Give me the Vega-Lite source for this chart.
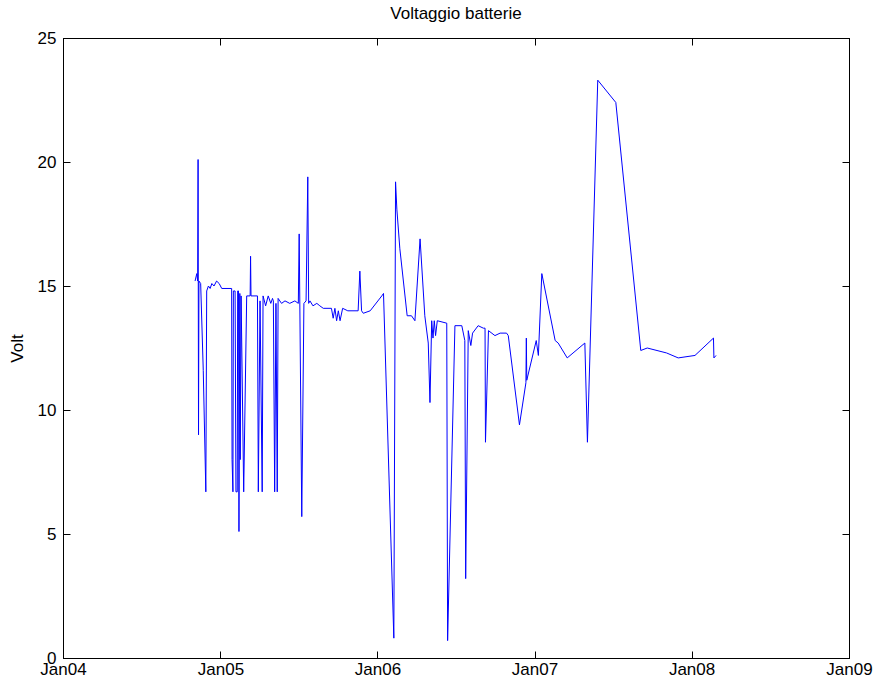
{
  "$schema": "https://vega.github.io/schema/vega-lite/v6.json",
  "width": 786,
  "height": 620,
  "autosize": {"type": "none"},
  "padding": {"left": 63, "top": 38, "right": 26, "bottom": 29},
  "background": "white",
  "config": {
    "view": {"stroke": "#000000", "strokeWidth": 1},
    "font": "Liberation Sans",
    "axis": {"labelFont": "Liberation Sans", "titleFont": "Liberation Sans", "labelColor": "#000", "titleColor": "#000", "domainColor": "#000", "tickColor": "#000", "grid": false}
  },
  "title": {"text": "Voltaggio batterie", "fontSize": 17, "font": "Liberation Sans", "fontWeight": "normal", "color": "#000", "offset": 6, "anchor": "middle"},
  "data": {
    "values": [
      {"date": "2004-11-03", "volt": 15.2},
      {"date": "2004-11-07", "volt": 15.5},
      {"date": "2004-11-09", "volt": 15.2},
      {"date": "2004-11-10", "volt": 20.1},
      {"date": "2004-11-11", "volt": 9.0},
      {"date": "2004-11-12", "volt": 15.2},
      {"date": "2004-11-16", "volt": 15.1},
      {"date": "2004-11-22", "volt": 11.6},
      {"date": "2004-11-28", "volt": 6.7},
      {"date": "2004-11-30", "volt": 14.8},
      {"date": "2004-12-04", "volt": 15.0},
      {"date": "2004-12-08", "volt": 14.9},
      {"date": "2004-12-12", "volt": 15.1},
      {"date": "2004-12-17", "volt": 15.0},
      {"date": "2004-12-23", "volt": 15.2},
      {"date": "2004-12-29", "volt": 15.1},
      {"date": "2005-01-04", "volt": 14.9},
      {"date": "2005-01-27", "volt": 14.9},
      {"date": "2005-01-28", "volt": 8.0},
      {"date": "2005-01-30", "volt": 6.7},
      {"date": "2005-01-31", "volt": 14.8},
      {"date": "2005-02-04", "volt": 14.8},
      {"date": "2005-02-06", "volt": 6.7},
      {"date": "2005-02-09", "volt": 6.7},
      {"date": "2005-02-10", "volt": 14.8},
      {"date": "2005-02-12", "volt": 14.8},
      {"date": "2005-02-13", "volt": 5.1},
      {"date": "2005-02-15", "volt": 14.7},
      {"date": "2005-02-16", "volt": 8.0},
      {"date": "2005-02-18", "volt": 14.6},
      {"date": "2005-02-24", "volt": 6.7},
      {"date": "2005-03-03", "volt": 14.6},
      {"date": "2005-03-11", "volt": 14.6},
      {"date": "2005-03-12", "volt": 16.2},
      {"date": "2005-03-13", "volt": 14.6},
      {"date": "2005-03-28", "volt": 14.6},
      {"date": "2005-03-30", "volt": 6.7},
      {"date": "2005-04-03", "volt": 14.4},
      {"date": "2005-04-08", "volt": 6.7},
      {"date": "2005-04-10", "volt": 14.6},
      {"date": "2005-04-16", "volt": 14.2},
      {"date": "2005-04-22", "volt": 14.6},
      {"date": "2005-04-28", "volt": 14.3},
      {"date": "2005-05-02", "volt": 14.5},
      {"date": "2005-05-04", "volt": 14.4},
      {"date": "2005-05-07", "volt": 6.7},
      {"date": "2005-05-10", "volt": 14.3},
      {"date": "2005-05-13", "volt": 6.7},
      {"date": "2005-05-15", "volt": 14.5},
      {"date": "2005-05-23", "volt": 14.3},
      {"date": "2005-05-31", "volt": 14.4},
      {"date": "2005-06-11", "volt": 14.3},
      {"date": "2005-06-23", "volt": 14.4},
      {"date": "2005-07-01", "volt": 14.3},
      {"date": "2005-07-03", "volt": 17.1},
      {"date": "2005-07-09", "volt": 5.7},
      {"date": "2005-07-14", "volt": 14.3},
      {"date": "2005-07-19", "volt": 14.4},
      {"date": "2005-07-23", "volt": 19.4},
      {"date": "2005-07-25", "volt": 14.3},
      {"date": "2005-07-28", "volt": 14.4},
      {"date": "2005-08-04", "volt": 14.2},
      {"date": "2005-08-13", "volt": 14.3},
      {"date": "2005-08-20", "volt": 14.2},
      {"date": "2005-08-28", "volt": 14.1},
      {"date": "2005-09-16", "volt": 14.1},
      {"date": "2005-09-20", "volt": 13.7},
      {"date": "2005-09-24", "volt": 14.1},
      {"date": "2005-09-28", "volt": 13.6},
      {"date": "2005-10-02", "volt": 14.0},
      {"date": "2005-10-06", "volt": 13.6},
      {"date": "2005-10-12", "volt": 14.1},
      {"date": "2005-10-24", "volt": 14.0},
      {"date": "2005-11-17", "volt": 14.0},
      {"date": "2005-11-21", "volt": 15.6},
      {"date": "2005-11-25", "volt": 14.0},
      {"date": "2005-11-29", "volt": 13.9},
      {"date": "2005-12-15", "volt": 14.0},
      {"date": "2006-01-11", "volt": 14.6},
      {"date": "2006-01-15", "volt": 14.7},
      {"date": "2006-02-08", "volt": 0.8},
      {"date": "2006-02-12", "volt": 19.2},
      {"date": "2006-02-15", "volt": 18.1},
      {"date": "2006-02-22", "volt": 16.5},
      {"date": "2006-03-11", "volt": 13.8},
      {"date": "2006-03-21", "volt": 13.8},
      {"date": "2006-03-29", "volt": 13.6},
      {"date": "2006-04-10", "volt": 16.9},
      {"date": "2006-04-21", "volt": 13.8},
      {"date": "2006-04-29", "volt": 12.7},
      {"date": "2006-05-03", "volt": 10.3},
      {"date": "2006-05-07", "volt": 13.6},
      {"date": "2006-05-10", "volt": 12.9},
      {"date": "2006-05-13", "volt": 13.6},
      {"date": "2006-05-16", "volt": 13.0},
      {"date": "2006-05-20", "volt": 13.6},
      {"date": "2006-06-11", "volt": 13.5},
      {"date": "2006-06-13", "volt": 0.7},
      {"date": "2006-06-30", "volt": 13.4},
      {"date": "2006-07-16", "volt": 13.4},
      {"date": "2006-07-23", "volt": 12.8},
      {"date": "2006-07-25", "volt": 3.2},
      {"date": "2006-07-31", "volt": 13.2},
      {"date": "2006-08-06", "volt": 12.6},
      {"date": "2006-08-10", "volt": 13.1},
      {"date": "2006-08-23", "volt": 13.4},
      {"date": "2006-09-04", "volt": 13.3},
      {"date": "2006-09-08", "volt": 13.3},
      {"date": "2006-09-09", "volt": 8.7},
      {"date": "2006-09-16", "volt": 13.2},
      {"date": "2006-10-01", "volt": 13.0},
      {"date": "2006-10-13", "volt": 13.1},
      {"date": "2006-10-28", "volt": 13.1},
      {"date": "2006-11-01", "volt": 13.0},
      {"date": "2006-11-27", "volt": 9.4},
      {"date": "2006-12-12", "volt": 11.1},
      {"date": "2006-12-13", "volt": 12.9},
      {"date": "2006-12-14", "volt": 11.2},
      {"date": "2007-01-05", "volt": 12.8},
      {"date": "2007-01-10", "volt": 12.2},
      {"date": "2007-01-18", "volt": 15.5},
      {"date": "2007-02-18", "volt": 12.8},
      {"date": "2007-02-25", "volt": 12.7},
      {"date": "2007-03-18", "volt": 12.1},
      {"date": "2007-04-28", "volt": 12.7},
      {"date": "2007-05-04", "volt": 8.7},
      {"date": "2007-05-28", "volt": 23.3},
      {"date": "2007-07-09", "volt": 22.4},
      {"date": "2007-09-05", "volt": 12.4},
      {"date": "2007-09-20", "volt": 12.5},
      {"date": "2007-11-04", "volt": 12.3},
      {"date": "2007-12-01", "volt": 12.1},
      {"date": "2008-01-09", "volt": 12.2},
      {"date": "2008-02-21", "volt": 12.9},
      {"date": "2008-02-22", "volt": 12.1},
      {"date": "2008-02-27", "volt": 12.2}
    ]
  },
  "layer": [
    {
      "mark": {"type": "line", "color": "#0000ff", "strokeWidth": 1, "interpolate": "linear"},
      "encoding": {
        "x": {
          "field": "date", "type": "temporal",
          "scale": {"domain": [{"year": 2004, "month": 1, "date": 1}, {"year": 2009, "month": 1, "date": 1}], "nice": false},
          "axis": {"orient": "bottom", "title": null, "format": "%b%y", "tickCount": {"interval": "year", "step": 1}, "labelFontSize": 17, "tickSize": -7, "labelPadding": 10, "labelFlush": false, "labelOverlap": false}
        },
        "y": {
          "field": "volt", "type": "quantitative",
          "scale": {"domain": [0, 25], "nice": false, "zero": true},
          "axis": {"orient": "left", "title": "Volt", "titleFontSize": 17, "titleFontWeight": "normal", "titlePadding": 11, "values": [0, 5, 10, 15, 20, 25], "labelFontSize": 17, "tickSize": -7, "labelPadding": 14, "labelFlush": false, "labelOverlap": false}
        }
      }
    },
    {
      "mark": {"type": "line", "opacity": 0},
      "encoding": {
        "x": {
          "field": "date", "type": "temporal",
          "axis": {"orient": "top", "title": null, "labels": false, "tickCount": {"interval": "year", "step": 1}, "tickSize": -7}
        },
        "y": {
          "field": "volt", "type": "quantitative",
          "axis": {"orient": "right", "title": null, "labels": false, "values": [0, 5, 10, 15, 20, 25], "tickSize": -7}
        }
      }
    }
  ],
  "resolve": {"axis": {"x": "independent", "y": "independent"}}
}
